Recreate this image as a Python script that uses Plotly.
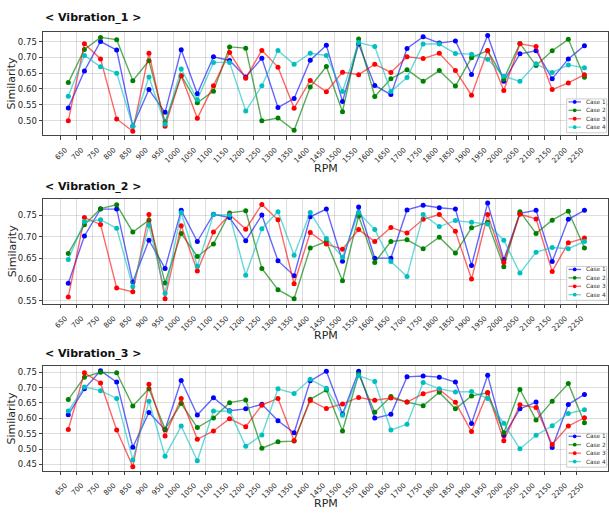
import plotly.graph_objects as go

rpm = list(range(650, 2251, 50))
tick_labels = [str(r) for r in rpm]
case_names = ["Case 1", "Case 2", "Case 3", "Case 4"]
case_colors = ["#0000ff", "#008000", "#ff0000", "#00bfbf"]
line_colors = ["rgba(0,0,255,0.6)", "rgba(0,128,0,0.65)", "rgba(255,0,0,0.6)", "rgba(0,191,191,0.6)"]

# Vibration_1
v1_case1 = [0.540, 0.657, 0.750, 0.723, 0.482, 0.598, 0.526, 0.724, 0.585, 0.702, 0.690, 0.638, 0.697, 0.541, 0.570, 0.691,
            0.738, 0.560, 0.742, 0.611, 0.582, 0.728, 0.765, 0.745, 0.752, 0.646, 0.769, 0.624, 0.711, 0.721, 0.632, 0.695, 0.737]
v1_case2 = [0.620, 0.725, 0.763, 0.756, 0.626, 0.689, 0.495, 0.642, 0.556, 0.593, 0.733, 0.729, 0.499, 0.508, 0.469, 0.606,
            0.671, 0.528, 0.758, 0.576, 0.632, 0.661, 0.624, 0.658, 0.609, 0.699, 0.721, 0.631, 0.744, 0.674, 0.721, 0.757, 0.637]
v1_case3 = [0.499, 0.743, 0.695, 0.505, 0.466, 0.713, 0.482, 0.642, 0.507, 0.610, 0.715, 0.634, 0.722, 0.669, 0.539, 0.627,
            0.591, 0.653, 0.645, 0.678, 0.652, 0.702, 0.696, 0.713, 0.658, 0.580, 0.722, 0.595, 0.743, 0.734, 0.598, 0.619, 0.645]
v1_case4 = [0.577, 0.706, 0.670, 0.650, 0.482, 0.638, 0.488, 0.663, 0.566, 0.684, 0.684, 0.530, 0.610, 0.722, 0.678, 0.713,
            0.706, 0.592, 0.747, 0.734, 0.592, 0.636, 0.742, 0.742, 0.712, 0.710, 0.694, 0.640, 0.624, 0.680, 0.652, 0.676, 0.667]

# Vibration_2
v2_case1 = [0.591, 0.702, 0.765, 0.765, 0.594, 0.692, 0.626, 0.762, 0.689, 0.753, 0.745, 0.691, 0.751, 0.644, 0.609, 0.747,
            0.765, 0.643, 0.770, 0.650, 0.650, 0.763, 0.774, 0.768, 0.765, 0.633, 0.779, 0.647, 0.755, 0.762, 0.642, 0.741, 0.762]
v2_case2 = [0.661, 0.728, 0.766, 0.775, 0.711, 0.739, 0.592, 0.708, 0.654, 0.683, 0.756, 0.761, 0.626, 0.576, 0.555, 0.674,
            0.689, 0.597, 0.749, 0.640, 0.689, 0.693, 0.672, 0.699, 0.662, 0.721, 0.734, 0.630, 0.759, 0.708, 0.739, 0.760, 0.674]
v2_case3 = [0.559, 0.745, 0.729, 0.580, 0.571, 0.752, 0.555, 0.726, 0.620, 0.711, 0.752, 0.718, 0.776, 0.740, 0.590, 0.710,
            0.683, 0.671, 0.717, 0.689, 0.722, 0.709, 0.741, 0.752, 0.713, 0.601, 0.752, 0.640, 0.753, 0.742, 0.619, 0.686, 0.697]
v2_case4 = [0.647, 0.736, 0.740, 0.720, 0.583, 0.727, 0.568, 0.757, 0.631, 0.752, 0.751, 0.610, 0.719, 0.759, 0.657, 0.757,
            0.696, 0.652, 0.757, 0.717, 0.642, 0.607, 0.752, 0.724, 0.738, 0.734, 0.730, 0.692, 0.615, 0.664, 0.675, 0.672, 0.689]

# Vibration_3
v3_case1 = [0.612, 0.696, 0.755, 0.718, 0.506, 0.619, 0.563, 0.723, 0.611, 0.667, 0.625, 0.631, 0.646, 0.592, 0.553, 0.722,
            0.753, 0.614, 0.753, 0.601, 0.613, 0.735, 0.738, 0.734, 0.718, 0.583, 0.740, 0.544, 0.631, 0.653, 0.505, 0.645, 0.678]
v3_case2 = [0.661, 0.734, 0.750, 0.748, 0.640, 0.696, 0.565, 0.648, 0.570, 0.601, 0.651, 0.660, 0.503, 0.524, 0.526, 0.662,
            0.692, 0.559, 0.744, 0.620, 0.671, 0.653, 0.641, 0.685, 0.631, 0.673, 0.683, 0.553, 0.694, 0.595, 0.656, 0.713, 0.586]
v3_case3 = [0.564, 0.748, 0.715, 0.562, 0.443, 0.711, 0.543, 0.665, 0.532, 0.559, 0.599, 0.573, 0.643, 0.665, 0.527, 0.658,
            0.632, 0.647, 0.668, 0.659, 0.666, 0.653, 0.680, 0.694, 0.652, 0.557, 0.684, 0.527, 0.644, 0.635, 0.515, 0.575, 0.602]
v3_case4 = [0.624, 0.702, 0.690, 0.665, 0.465, 0.656, 0.477, 0.575, 0.462, 0.624, 0.623, 0.509, 0.546, 0.696, 0.681, 0.727,
            0.698, 0.610, 0.739, 0.720, 0.562, 0.581, 0.717, 0.696, 0.686, 0.687, 0.665, 0.584, 0.501, 0.545, 0.576, 0.616, 0.628]

panels = [
    ("< Vibration_1 >", [v1_case1, v1_case2, v1_case3, v1_case4], [0.4527, 0.7815]),
    ("< Vibration_2 >", [v2_case1, v2_case2, v2_case3, v2_case4], [0.543, 0.7888]),
    ("< Vibration_3 >", [v3_case1, v3_case2, v3_case3, v3_case4], [0.4293, 0.7694]),
]

W, H = 609, 514
frames_px = [(31.7, 136.0), (199.7, 305.0), (367.7, 472.7)]
title_px = [18, 187, 355]
rpm_label_px = [169, 337, 505]
legend_box_px = [(99.3, 133.3), (267.5, 301.5), (435, 469)]
x_left_px, x_right_px = 43, 608

font_family = "DejaVu Sans"
text_color = "#262626"
fig = go.Figure()
tickvals = [r - 25 for r in rpm]

def px_x(p):
    return p / W

def px_y(p):
    return 1 - p / H

shapes = []
annotations = []

for i, (title, series, yr) in enumerate(panels):
    n = "" if i == 0 else str(i + 1)
    for name, col, lcol, vals in zip(case_names, case_colors, line_colors, series):
        fig.add_trace(go.Scatter(
            x=rpm, y=vals, name=name, mode="lines+markers",
            line=dict(color=lcol, width=1.4),
            marker=dict(color=col, size=5),
            xaxis="x" + n, yaxis="y" + n, showlegend=False,
        ))
    top, bot = frames_px[i]
    ydom = [px_y(bot), px_y(top)]
    axis_common = dict(
        showgrid=True, gridcolor="rgba(0,0,0,0.13)", gridwidth=1.4,
        showline=True, linecolor="#444444", linewidth=1, mirror=True,
        ticks="outside", ticklen=3.5, tickcolor="#444444",
        zeroline=False,
    )
    fig.update_layout({
        "xaxis" + n: dict(
            domain=[px_x(x_left_px), px_x(x_right_px)], anchor="y" + n,
            range=[571.6, 2323], tickmode="array", tickvals=tickvals, ticktext=tick_labels,
            tickangle=-45, ticklabelshift=5, ticklabelstandoff=3,
            tickfont=dict(family=font_family, size=7.2, color=text_color),
            **axis_common,
        ),
        "yaxis" + n: dict(
            domain=ydom, anchor="x" + n, range=yr, dtick=0.05, tickformat=".2f",
            tickfont=dict(family=font_family, size=8.5, color=text_color),
            **axis_common,
        ),
    })
    annotations.append(dict(
        text=f"<b>{title}</b>", xref="paper", yref="paper",
        x=px_x(x_left_px), y=px_y(title_px[i]), xanchor="left", yanchor="middle",
        showarrow=False, font=dict(family=font_family, size=11, color="#111111"),
    ))
    annotations.append(dict(
        text="RPM", xref="paper", yref="paper",
        x=px_x((x_left_px + x_right_px) / 2), y=px_y(rpm_label_px[i]), xanchor="center", yanchor="middle",
        showarrow=False, font=dict(family=font_family, size=11, color=text_color),
    ))
    annotations.append(dict(
        text="Similarity", xref="paper", yref="paper", textangle=-90,
        x=px_x(12), y=px_y((top + bot) / 2), xanchor="center", yanchor="middle",
        showarrow=False, font=dict(family=font_family, size=11, color=text_color),
    ))
    # legend box drawn like matplotlib's compact legend
    lt, lb = legend_box_px[i]
    lx0, lx1 = 566.7, 606.7
    shapes.append(dict(
        type="rect", xref="paper", yref="paper",
        x0=px_x(lx0), x1=px_x(lx1), y0=px_y(lb), y1=px_y(lt),
        line=dict(color="#cccccc", width=1), fillcolor="rgba(255,255,255,0.85)", layer="above",
    ))
    for k, (name, col, lcol) in enumerate(zip(case_names, case_colors, line_colors)):
        ey = lt + 3.0 + 8.45 * k
        shapes.append(dict(
            type="line", xref="paper", yref="paper",
            x0=px_x(568.5), x1=px_x(581), y0=px_y(ey), y1=px_y(ey),
            line=dict(color=lcol, width=1.3), layer="above",
        ))
        r = 1.9
        shapes.append(dict(
            type="circle", xref="paper", yref="paper",
            x0=px_x(574.7 - r), x1=px_x(574.7 + r), y0=px_y(ey + r), y1=px_y(ey - r),
            line=dict(color=col, width=0), fillcolor=col, layer="above",
        ))
        annotations.append(dict(
            text=name, xref="paper", yref="paper",
            x=px_x(583.5), y=px_y(ey), xanchor="left", yanchor="middle",
            showarrow=False, font=dict(family=font_family, size=5.8, color="#333333"),
        ))

fig.update_layout(
    width=W, height=H, margin=dict(l=0, r=0, t=0, b=0),
    paper_bgcolor="white", plot_bgcolor="white", showlegend=False,
    shapes=shapes, annotations=annotations,
)

fig.write_html("out.html", config={"displayModeBar": False},
               post_script="document.body.style.margin='0px';")
